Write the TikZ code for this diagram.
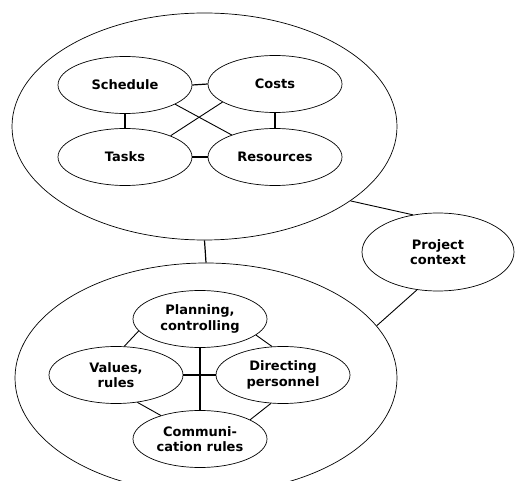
\documentclass[tikz,border=0pt]{standalone}
\usepackage{fontspec}
\setmainfont{DejaVu Sans}
\usetikzlibrary{shapes.geometric}
\begin{document}
\begin{tikzpicture}[x=1pt,y=-1pt,
  outline/.style={draw,ellipse,line width=0.7pt,inner sep=0pt,align=center,
     font=\fontsize{13}{15.5}\selectfont\bfseries},
  inner/.style={outline,minimum width=134pt,minimum height=57pt},
  link/.style={line width=1.2pt},
  thin/.style={line width=0.9pt}]
\useasboundingbox (0,0) rectangle (515,481);
% big ellipses
\node[outline,minimum width=385pt,minimum height=227pt] (top) at (204.5,126.5) {};
\node[outline,minimum width=382pt,minimum height=230pt] (bot) at (206,378) {};
\node[outline,minimum width=152pt,minimum height=78pt] (ctx) at (438,252) {Project\\context};
% top inner
\node[inner] (sch) at (125,85) {Schedule};
\node[inner] (cos) at (275,84) {Costs};
\node[inner] (tas) at (125,157) {Tasks};
\node[inner] (res) at (275,157) {Resources};
% bottom inner
\node[inner] (pla) at (200,319) {Planning,\\controlling};
\node[inner] (val) at (116,375) {Values,\\rules};
\node[inner] (dir) at (283,375) {Directing\\personnel};
\node[inner] (com) at (200,439) {Communi-\\cation rules};
% top connectors
\draw[link] (sch.east) -- (cos.west);
\draw[link] (tas.east) -- (res.west);
\draw[link] (sch.south) -- (tas.north);
\draw[link] (cos.south) -- (res.north);
\draw[thin] (sch.-21) -- (res.153);
\draw[thin] (cos.-161) -- (tas.25.5);
% bottom connectors
\draw[link] (pla.south) -- (com.north);
\draw[link] (val.east) -- (dir.west);
\draw[thin] (pla.-169) -- (val.74);
\draw[thin] (pla.-16) -- (dir.111.5);
\draw[thin] (val.-52) -- (com.149);
\draw[thin] (dir.-113) -- (com.21.4);
% between big ellipses
\draw[link] (top.south) -- (bot.north);
\draw[thin] (top.-27.4) -- (ctx.124);
\draw[thin] (ctx.-119) -- (bot.17.2);
\end{tikzpicture}
\end{document}
